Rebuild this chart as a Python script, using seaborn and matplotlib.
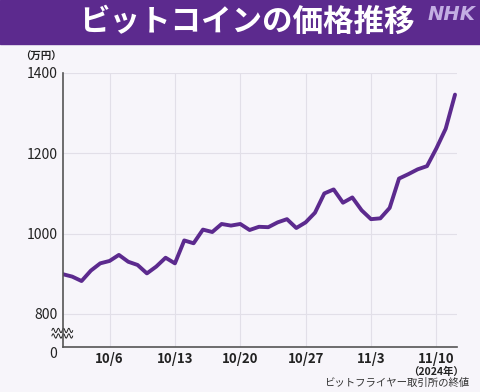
import numpy as np
import pandas as pd
import matplotlib
matplotlib.use("Agg")
import matplotlib.pyplot as plt
import matplotlib.transforms as mtransforms
import seaborn as sns

# daily closing price (万円), 2024/10/1 - 11/12
dates = pd.date_range("2024-10-01", "2024-11-12", freq="D")
prices = [899, 893, 882, 908, 926, 932, 947, 930, 922, 901,
          918, 940, 926, 983, 976, 1010, 1004, 1024, 1020, 1024,
          1009, 1017, 1016, 1028, 1036, 1014, 1028, 1052, 1100, 1110,
          1077, 1090, 1058, 1036, 1038, 1064, 1137, 1148, 1160, 1168,
          1212, 1261, 1346]
tick_dates = pd.to_datetime(["2024-10-06", "2024-10-13", "2024-10-20",
                             "2024-10-27", "2024-11-03", "2024-11-10"])
tick_labels = ["10/6", "10/13", "10/20", "10/27", "11/3", "11/10"]
y_ticks = [800, 1000, 1200, 1400]

df = pd.DataFrame({"date": dates, "price": prices})

sns.set_theme(style="white")
plt.rcParams["font.family"] = ["Noto Sans CJK JP", "DejaVu Sans"]

bg = "#F7F5FA"
purple = "#5C2A8E"

fig = plt.figure(figsize=(4.8, 3.92), dpi=100, facecolor=bg)
ax = fig.add_axes([0.131, 0.115, 0.821, 0.699], facecolor=bg)

# title banner
fig.patches.append(plt.Rectangle((0, 0.888), 1, 0.112, transform=fig.transFigure,
                                 color=purple, zorder=0))
fig.text(0.515, 0.944, "ビットコインの価格推移", color="white", fontsize=22,
         fontweight="bold", ha="center", va="center")
fig.text(0.99, 0.962, "NHK", color="#C3AEE3", fontsize=14, fontweight="bold",
         fontstyle="italic", ha="right", va="center", family="DejaVu Sans")

sns.lineplot(data=df, x="date", y="price", ax=ax, color=purple, linewidth=2.8)

ax.set_xlim(dates[0], dates[-1] + pd.Timedelta(hours=5))
ax.set_ylim(718, 1400)
ax.set_yticks(y_ticks + [718])
ax.set_yticklabels([str(v) for v in y_ticks] + ["0"], fontsize=10)
ax.set_xticks(tick_dates)
ax.set_xticklabels(tick_labels, fontsize=9.5, fontweight="bold")
ax.tick_params(axis="both", length=0, pad=4, colors="#222222")
ax.set_xlabel("")
ax.set_ylabel("")
# the "0" label sits a little below the baseline
ax.get_yticklabels()[-1].set_transform(
    ax.get_yticklabels()[-1].get_transform()
    + mtransforms.ScaledTranslation(0, -6 / 100, fig.dpi_scale_trans))

for v in y_ticks:
    ax.axhline(v, color="#E2DFE8", linewidth=0.8, zorder=0)
for d in tick_dates:
    ax.axvline(d, color="#E2DFE8", linewidth=0.8, zorder=0)

for s in ["top", "right"]:
    ax.spines[s].set_visible(False)
for s in ["left", "bottom"]:
    ax.spines[s].set_color("#555555")
    ax.spines[s].set_linewidth(1.2)

# axis break marks
t = np.linspace(-0.028, 0.025, 60)
for yb in (0.060, 0.040):
    ax.plot(t, yb + 0.008 * np.sin((t + 0.028) / 0.053 * 8 * np.pi),
            transform=ax.transAxes, color="#222222", linewidth=0.7, clip_on=False)

blend = mtransforms.blended_transform_factory(ax.transData, ax.transAxes)
ax.text(tick_dates[-1], -0.092, "（2024年）", transform=blend, ha="center",
        va="center", fontsize=7.5, fontweight="bold", color="#222222")

fig.text(0.086, 0.855, "（万円）", fontsize=7.5, ha="center", va="center",
         fontweight="bold", color="#222222")
fig.text(0.978, 0.022, "ビットフライヤー取引所の終値", fontsize=7.5, ha="right",
         va="center", color="#333333")

fig.savefig("out.png", dpi=100, facecolor=bg)
